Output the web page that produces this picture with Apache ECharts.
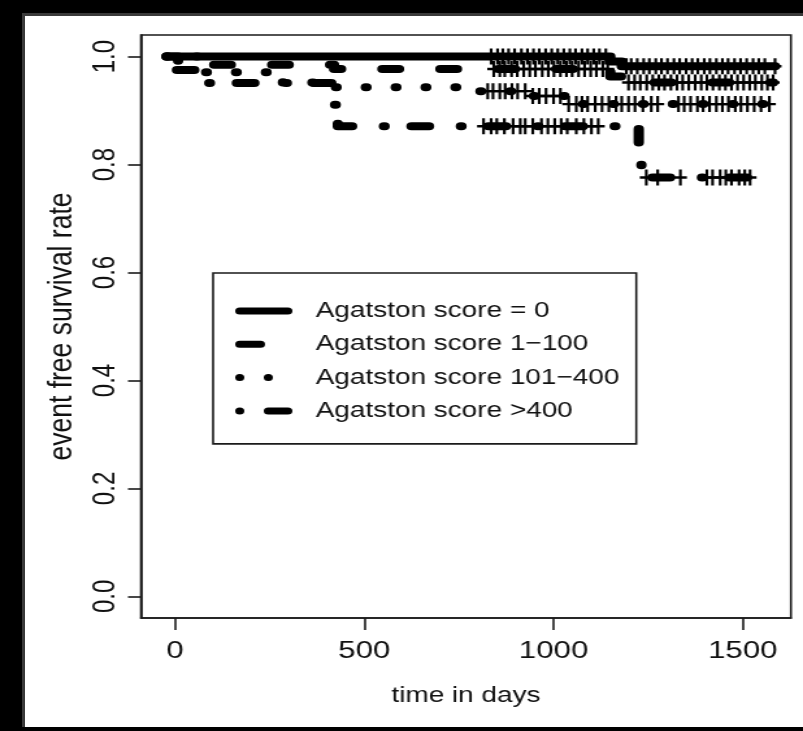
<!DOCTYPE html>
<html>
<head>
<meta charset="utf-8">
<script src="https://cdn.jsdelivr.net/npm/echarts@6/dist/echarts.min.js"></script>
<style>
html, body { margin: 0; padding: 0; background: #000; width: 803px; height: 731px; overflow: hidden; }
#panel { position: absolute; left: 22px; top: 13px; width: 781px; height: 714px; background: #fff;
         border-left: 3px solid #3a3a3a; border-top: 3px solid #3a3a3a; box-sizing: border-box; }
/* the source figure is stretched horizontally, so the chart is drawn narrow and widened */
#chart { position: absolute; left: 0; top: 0; width: 618px; height: 731px; transform-origin: 0 0; transform: scaleX(1.29935); }
</style>
</head>
<body>
<div id="panel"></div>
<div id="chart"></div>
<script>
var groupNames = ['Agatston score = 0', 'Agatston score 1\u2212100', 'Agatston score 101\u2212400', 'Agatston score >400'];
var xTicks = [0, 500, 1000, 1500];
var yTicks = [0, 0.2, 0.4, 0.6, 0.8, 1.0];

// Kaplan-Meier steps: [day, survival from that day on]
var stepsScore0 = [[-22, 1.0], [1150, 0.991], [1180, 0.982]];
var stepsScore1 = [[-22, 1.0], [8, 0.985], [420, 0.977], [1150, 0.963], [1185, 0.952]];
var stepsScore2 = [[-22, 1.0], [62, 0.971], [285, 0.952], [420, 0.943], [800, 0.936], [935, 0.927], [1030, 0.912]];
var stepsScore3 = [[-22, 1.0], [5, 0.975], [60, 0.951], [415, 0.911], [430, 0.871], [1225, 0.823], [1232, 0.776]];

// censored days (+ marks)
var censScore0 = [835, 852, 866, 881, 897, 915, 931, 947, 962, 979, 995, 1011, 1027, 1043, 1058, 1075, 1090, 1106, 1121, 1138,
                  1192, 1205, 1221, 1238, 1253, 1270, 1285, 1301, 1318, 1333, 1350, 1366, 1381, 1398, 1413, 1430, 1446, 1461, 1478, 1494, 1510, 1527, 1542, 1558, 1585];
var censScore1 = [842, 858, 871, 889, 904, 921, 937, 952, 970, 986, 1001, 1018, 1034, 1049, 1066, 1082, 1098, 1113, 1130, 1143,
                  1198, 1214, 1229, 1246, 1262, 1278, 1293, 1310, 1326, 1341, 1357, 1374, 1390, 1405, 1421, 1438, 1454, 1470, 1486, 1502, 1518, 1533, 1550, 1565, 1580];
var censScore2 = [826, 840, 858, 872, 890, 905, 925, 945, 962, 980, 1000, 1018, 1040, 1060, 1075, 1090, 1110, 1128, 1146, 1165,
                  1180, 1198, 1215, 1236, 1258, 1275, 1330, 1345, 1362, 1380, 1395, 1412, 1430, 1446, 1462, 1480, 1495, 1512, 1530, 1548, 1570];
var censScore3 = [815, 835, 850, 870, 893, 912, 925, 945, 968, 985, 1003, 1020, 1036, 1060, 1080, 1100, 1118,
                  1245, 1275, 1335, 1405, 1420, 1440, 1455, 1470, 1490, 1505, 1519];

var allSteps = [stepsScore0, stepsScore1, stepsScore2, stepsScore3];
var allCens = [censScore0, censScore1, censScore2, censScore3];
var dashTypes = ['solid', [12.8, 31.8], [0.5, 22.5], [0.5, 20.7, 13.5, 24.5]];

var FONT = "'Liberation Sans', Arial, Helvetica, sans-serif";
var INK = '#111';

function survAt(steps, t) {
    var v = steps[0][1];
    for (var i = 0; i < steps.length; i++) {
        if (steps[i][0] <= t) v = steps[i][1];
    }
    return v;
}

function curveData(steps, cens) {
    var pts = steps.slice();
    pts.push([cens[cens.length - 1], steps[steps.length - 1][1]]);
    return pts;
}

function censData(steps, cens) {
    return cens.map(function (t) { return [t, survAt(steps, t)]; });
}

// legend icons, 44 x 7
function capsule(x0, x1) {
    return 'M' + (x0 + 3.5) + ' 0 H' + (x1 - 3.5) + ' A3.5 3.5 0 0 1 ' + (x1 - 3.5) + ' 7 H' + (x0 + 3.5) +
        ' A3.5 3.5 0 0 1 ' + (x0 + 3.5) + ' 0 Z ';
}
function dot(cx) {
    return 'M' + (cx - 3.5) + ' 3.5 A3.5 3.5 0 1 0 ' + (cx + 3.5) + ' 3.5 A3.5 3.5 0 1 0 ' + (cx - 3.5) + ' 3.5 Z ';
}
var legendIcons = [
    'path://' + capsule(0, 44),
    'path://' + capsule(0, 23) + 'M44 0 L44 0 Z',
    'path://' + dot(3.5) + dot(25.5) + 'M44 0 L44 0 Z',
    'path://' + dot(3.5) + capsule(22, 44)
];

var series = [];
for (var g = 0; g < 4; g++) {
    series.push({
        name: groupNames[g],
        type: 'line',
        step: 'end',
        showSymbol: false,
        symbol: 'none',
        silent: true,
        itemStyle: { color: '#000', borderWidth: 0 },
        lineStyle: { color: '#000', width: 8, type: dashTypes[g], cap: 'round', join: 'round' },
        data: curveData(allSteps[g], allCens[g]),
        z: 2
    });
}
for (var g2 = 0; g2 < 4; g2++) {
    series.push({
        name: groupNames[g2],
        type: 'scatter',
        silent: true,
        symbol: 'path://M0,7 H14 V9.5 H0 Z M5.5,0 H8.5 V16.5 H5.5 Z',
        symbolSize: [10, 16],
        itemStyle: { color: '#000', opacity: 1 },
        data: censData(allSteps[g2], allCens[g2]),
        z: 3
    });
}

var chart = echarts.init(document.getElementById('chart'), null, { renderer: 'canvas' });
chart.setOption({
    animation: false,
    backgroundColor: 'transparent',
    grid: { left: 108.5, top: 35, width: 500.2, height: 583, show: true, borderColor: '#1a1a1a', borderWidth: 1.6, backgroundColor: 'transparent' },
    legend: {
        orient: 'vertical',
        left: 164,
        top: 273,
        padding: [23, 13, 18, 17],
        itemGap: 3.3,
        itemWidth: 44,
        itemHeight: 7,
        borderColor: '#1a1a1a',
        borderWidth: 1.6,
        selectedMode: false,
        textStyle: { fontFamily: FONT, fontSize: 21.5, color: INK, lineHeight: 30, padding: [0, 0, 0, 13] },
        data: groupNames.map(function (n, i) {
            return { name: n, icon: legendIcons[i], itemStyle: { color: '#000', borderWidth: 0 } };
        })
    },
    xAxis: {
        type: 'value',
        min: -90,
        max: 1627,
        name: 'time in days',
        nameLocation: 'middle',
        nameGap: 67,
        nameTextStyle: { fontFamily: FONT, fontSize: 21.5, color: INK },
        splitLine: { show: false },
        axisLine: { show: true, onZero: false, lineStyle: { color: '#1a1a1a', width: 1.6 } },
        axisTick: { show: true, length: 12, customValues: xTicks, lineStyle: { color: '#1a1a1a', width: 1.6 } },
        axisLabel: {
            customValues: xTicks, margin: 21, fontFamily: FONT, fontSize: 24, color: INK,
            formatter: function (v) { return String(v); }
        }
    },
    yAxis: {
        type: 'value',
        min: -0.04,
        max: 1.04,
        name: 'event free survival rate',
        nameLocation: 'middle',
        nameGap: 44,
        nameTextStyle: { fontFamily: FONT, fontSize: 26.5, color: INK },
        splitLine: { show: false },
        axisLine: { show: true, onZero: false, lineStyle: { color: '#1a1a1a', width: 1.6 } },
        axisTick: { show: true, length: 10, customValues: yTicks, lineStyle: { color: '#1a1a1a', width: 1.6 } },
        axisLabel: {
            customValues: yTicks, rotate: 90, margin: 15, fontFamily: FONT, fontSize: 24, color: INK,
            formatter: function (v) { return v.toFixed(1); }
        }
    },
    series: series
});
</script>
</body>
</html>
